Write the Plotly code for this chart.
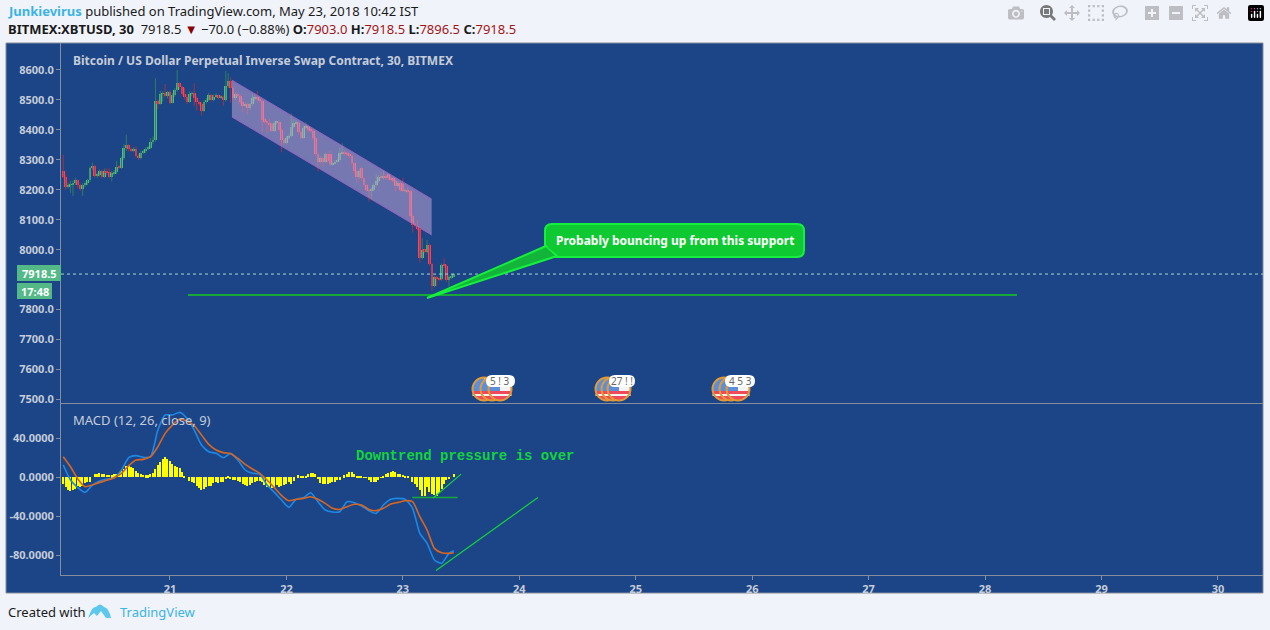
import numpy as np
import plotly.graph_objects as go
from plotly.subplots import make_subplots

W, H = 1270, 630

# 30 minute candles
opens = [8261, 8244, 8210, 8216, 8219, 8224, 8231, 8216, 8202, 8216, 8222, 8231, 8272, 8280, 8246, 8250, 8262, 8244, 8261, 8258,
         8242, 8255, 8258, 8277, 8274, 8305, 8338, 8348, 8335, 8331, 8335, 8314, 8306, 8324, 8328, 8337, 8341, 8358, 8365, 8495,
         8488, 8520, 8523, 8514, 8525, 8491, 8516, 8532, 8555, 8542, 8520, 8511, 8493, 8520, 8522, 8508, 8492, 8488, 8464, 8492,
         8500, 8516, 8500, 8511, 8515, 8508, 8511, 8500, 8546, 8563, 8539, 8508, 8519, 8514, 8492, 8481, 8485, 8472, 8485, 8505,
         8508, 8503, 8496, 8433, 8427, 8422, 8419, 8397, 8424, 8427, 8400, 8366, 8357, 8374, 8380, 8411, 8422, 8424, 8392, 8374,
         8407, 8413, 8400, 8397, 8372, 8318, 8294, 8305, 8294, 8318, 8318, 8285, 8288, 8294, 8298, 8322, 8325, 8322, 8318, 8313,
         8288, 8261, 8241, 8274, 8238, 8216, 8199, 8196, 8200, 8216, 8229, 8244, 8240, 8244, 8252, 8238, 8238, 8229, 8213, 8222,
         8218, 8196, 8199, 8196, 8113, 8083, 8079, 8068, 7973, 7999, 7993, 8016, 7952, 7879, 7908, 7904, 7901, 7949, 7946, 7899,
         7908, 7912]
highs = [8316, 8250, 8224, 8230, 8231, 8240, 8235, 8220, 8222, 8228, 8236, 8278, 8291, 8284, 8256, 8268, 8268, 8270, 8272, 8272,
         8262, 8266, 8296, 8282, 8310, 8352, 8384, 8352, 8340, 8342, 8346, 8320, 8330, 8334, 8342, 8346, 8372, 8378, 8572, 8502,
         8530, 8530, 8553, 8530, 8532, 8522, 8540, 8600, 8560, 8548, 8540, 8518, 8528, 8528, 8555, 8512, 8498, 8492, 8498, 8506,
         8524, 8520, 8518, 8522, 8518, 8516, 8515, 8597, 8589, 8575, 8545, 8526, 8524, 8518, 8496, 8492, 8490, 8490, 8520, 8516,
         8530, 8510, 8500, 8440, 8432, 8436, 8425, 8430, 8432, 8432, 8404, 8372, 8380, 8388, 8455, 8436, 8432, 8428, 8396, 8412,
         8425, 8418, 8406, 8402, 8376, 8322, 8312, 8310, 8324, 8322, 8330, 8294, 8300, 8304, 8340, 8355, 8332, 8328, 8322, 8318,
         8292, 8266, 8270, 8278, 8242, 8220, 8204, 8206, 8220, 8252, 8250, 8258, 8266, 8252, 8256, 8244, 8242, 8234, 8228, 8226,
         8240, 8204, 8211, 8200, 8118, 8090, 8100, 8072, 8038, 8004, 8033, 8020, 7956, 7914, 7912, 7908, 7954, 7971, 7950, 7914,
         7918, 7922]
lows = [8238, 8200, 8204, 8190, 8180, 8216, 8205, 8196, 8180, 8210, 8216, 8226, 8266, 8240, 8240, 8244, 8238, 8240, 8250, 8238,
        8228, 8248, 8252, 8268, 8270, 8300, 8330, 8328, 8326, 8326, 8308, 8300, 8302, 8320, 8322, 8332, 8336, 8352, 8360, 8470,
        8484, 8494, 8508, 8505, 8486, 8488, 8510, 8528, 8535, 8514, 8500, 8486, 8490, 8512, 8480, 8464, 8480, 8448, 8460, 8488,
        8496, 8494, 8496, 8506, 8502, 8504, 8480, 8494, 8540, 8490, 8500, 8500, 8508, 8486, 8460, 8476, 8450, 8466, 8480, 8498,
        8498, 8490, 8394, 8420, 8389, 8414, 8392, 8392, 8418, 8394, 8325, 8350, 8352, 8368, 8376, 8406, 8416, 8386, 8368, 8370,
        8402, 8394, 8390, 8366, 8312, 8261, 8288, 8278, 8290, 8290, 8280, 8280, 8284, 8290, 8294, 8316, 8314, 8312, 8306, 8282,
        8256, 8222, 8236, 8230, 8210, 8194, 8160, 8166, 8194, 8210, 8224, 8234, 8234, 8234, 8232, 8228, 8224, 8192, 8208, 8194,
        8192, 8190, 8186, 8108, 8057, 8074, 8064, 7957, 7968, 7988, 7988, 7946, 7862, 7874, 7877, 7896, 7896, 7940, 7892, 7877,
        7902, 7908]
closes = [8244, 8210, 8216, 8219, 8224, 8231, 8216, 8202, 8216, 8222, 8231, 8272, 8280, 8246, 8250, 8262, 8244, 8261, 8258, 8242,
          8255, 8258, 8277, 8274, 8305, 8338, 8348, 8335, 8331, 8335, 8314, 8306, 8324, 8328, 8337, 8341, 8358, 8365, 8495, 8488,
          8520, 8523, 8514, 8525, 8491, 8516, 8532, 8555, 8542, 8520, 8511, 8493, 8520, 8522, 8508, 8492, 8488, 8464, 8492, 8500,
          8516, 8500, 8511, 8515, 8508, 8511, 8500, 8546, 8563, 8539, 8508, 8519, 8514, 8492, 8481, 8485, 8472, 8485, 8505, 8508,
          8503, 8496, 8433, 8427, 8422, 8419, 8397, 8424, 8427, 8400, 8366, 8357, 8374, 8380, 8411, 8422, 8424, 8392, 8374, 8407,
          8413, 8400, 8397, 8372, 8318, 8294, 8305, 8294, 8318, 8296, 8285, 8288, 8294, 8298, 8322, 8325, 8320, 8318, 8313, 8288,
          8261, 8241, 8263, 8238, 8216, 8199, 8196, 8200, 8216, 8229, 8244, 8240, 8244, 8240, 8238, 8233, 8229, 8213, 8222, 8198,
          8196, 8199, 8192, 8113, 8083, 8079, 8068, 7973, 7999, 7993, 8016, 7952, 7879, 7908, 7901, 7901, 7949, 7946, 7899, 7908,
          7912, 7918.5]

# MACD histogram, one value per candle
hist = [-6.8, -10.3, -13, -14.4, -13.7, -12, -9.6, -10.3, -9.6, -6.2, -5.1, -5.1, 0, 2.7, 2.7, 4.1, 3.1, 3.1, 2.4, 2.4,
        1.7, 2.7, 3.4, 4.4, 6.2, 8.5, 10.9, 11.6, 10.3, 8.9, 6.2, 4.1, 2.7, 2.1, 1.7, 1.7, 2.7, 4.1, 8, 12,
        15.4, 18.8, 20.5, 18.8, 16.4, 13, 10.9, 10.3, 9.6, 5.1, 0.3, 0, -4.1, -5.1, -6.2, -9.6, -10.9, -13, -12, -10.3,
        -9.6, -8.9, -6.2, -5.5, -6.2, -5.5, -5.5, -2.1, 0.3, -2.1, -3.4, -2.7, -4.1, -5.5, -6.8, -8.2, -8.9, -8.2, -6.2, -4.8,
        -4.1, -4.1, -5.5, -8.2, -10.3, -10.3, -10.9, -10.3, -8.2, -10.3, -9.6, -8.2, -7.5, -4.8, -6.8, -4.1, 0, 1.7, 1.4, 1,
        1, 2.7, 4.1, 4.1, 3.4, -2.1, -6.2, -7.5, -7.5, -6.8, -6.2, -5.1, -4.8, -3.4, -2.7, 0, 1.7, 3.4, 4.8, 4.8,
        2.7, 0.7, 0.3, 0.2, -0.3, -1, -2.7, -4.8, -5.5, -4.8, -2.7, -1, 0.7, 2.7, 4.4, 5.5, 6.2, 5.1, 3.4, 2.7,
        2.1, 1, 0.3, 0, -5.1, -7.5, -10.3, -13.7, -19.1, -19.1, -10.3, -15.4, -17.1, -18.5, -19.1, -16.4, -12, -7.5, -3.4, -1.7,
        0, 2.7]

# MACD and signal lines, read every third candle
line_bars = [0, 3, 6, 9, 12, 15, 18, 21, 24, 27, 30, 33, 36, 39, 42, 45, 48, 51, 54, 57, 60, 63, 66, 69, 72, 75, 78, 81, 84, 87, 90, 93,
             96, 99, 102, 105, 108, 111, 114, 117, 120, 123, 126, 129, 132, 135, 138, 141, 144, 147, 150, 153, 156, 159, 161]
macd = [12.3, -3.1, -10.9, -15.7, -8.2, -4.1, -2.1, -0.7, 7.2, 19.8, 21.9, 20.2, 20.9, 48.2, 63.6, 63.6, 66.3, 60.2, 48.2, 32.8, 26, 24.3,
        19.8, 24.3, 17.4, 7.2, 3.8, 3.1, -8.2, -15.7, -23.6, -31.1,
        -22.9, -21.2, -16.1, -25.3, -33.8, -35.9, -35.6, -25.3, -26.3, -29.7, -34.5, -37.3, -28.7, -22.9, -21.9, -22.9, -32.1, -57.8, -68,
        -85.1, -88.5, -78.3, -75.6]
signal = [20.9, 10.6, -2.1, -9.9, -8.2, -5.5, -3.4, -0.7, 3.8, 11.6, 17.4, 18.1, 20.9, 31.1, 44.8, 53.3, 59.5, 57.4, 52.6, 43.1, 33.5, 27.7,
          25, 23.9, 19.1, 13, 8.2, 3.8, -3.1, -10.9, -19.1, -24.3,
          -22.9, -21.9, -20.2, -22.9, -27, -32.1, -33.2, -30.4, -28, -28.7, -33.2, -34.5, -32.1, -27.7, -26, -24.3, -25.3, -40.7, -54.4,
          -73.2, -77.6, -78.3, -77.6]

price_ticks = [8600, 8500, 8400, 8300, 8200, 8100, 8000, 7800, 7700, 7600, 7500]
macd_ticks = [40, 0, -40, -80]
day_ticks = [21, 22, 23, 24, 25, 26, 27, 28, 29, 30]
last_price = 7918.5

# drawings, in day / price units
channel_x = [21.532, 23.247]
channel_top = [8566, 8169]
channel_bottom = [8443, 8049]
support_x = [21.155, 28.274]
support_y = 7849
macd_flat_x = [23.08, 23.47]
macd_flat_y = -21
macd_rise_x = [23.26, 23.5]
macd_rise_y = -21.5, 3
macd_long_x = [23.285, 24.16]
macd_long_y = [-96, -21]

BLUE = "#1c4587"
BORDER = "#858d9b"
TEXT = "#c5ccd8"
UP, DOWN = "#53b987", "#f0485f"
UP_WICK, DOWN_WICK = "#2f7d62", "#a3304a"
GREEN = "#13d43a"
FONT = "Noto Sans, Open Sans, sans-serif"

t = 20 + (4 + np.arange(len(closes))) / 48


def fx(px):
    return px / W


def fy(py):
    return 1 - py / H


fig = make_subplots(rows=2, cols=1, shared_xaxes=True, vertical_spacing=0)

# wicks
for color, pick in ((UP_WICK, True), (DOWN_WICK, False)):
    wx, wy = [], []
    for i in range(len(closes)):
        if (closes[i] >= opens[i]) == pick:
            wx += [t[i], t[i], None]
            wy += [lows[i], highs[i], None]
    fig.add_trace(go.Scatter(x=wx, y=wy, mode="lines", line=dict(color=color, width=1), hoverinfo="skip"), row=1, col=1)

# candle bodies
body = [c - o for o, c in zip(opens, closes)]
body_colors = [UP if b >= 0 else DOWN for b in body]
fig.add_trace(go.Bar(x=t, y=body, base=opens, width=0.0245, marker=dict(color=body_colors, line=dict(width=0))), row=1, col=1)

# MACD pane
fig.add_trace(go.Bar(x=t, y=hist, width=0.0115, marker=dict(color="#ffff00", line=dict(width=0))), row=2, col=1)
line_t = [t[i] for i in line_bars]
fig.add_trace(go.Scatter(x=line_t, y=macd, mode="lines", line=dict(color="#1e88e5", width=1.6, shape="spline", smoothing=0.6)), row=2, col=1)
fig.add_trace(go.Scatter(x=line_t, y=signal, mode="lines", line=dict(color="#d9661f", width=1.6, shape="spline", smoothing=0.6)), row=2, col=1)

shapes = []


def page_rect(x0, y0, x1, y1, fill, line=None, width=0):
    shapes.append(dict(type="rect", xref="paper", yref="paper", x0=fx(x0), x1=fx(x1), y0=fy(y0), y1=fy(y1),
                       fillcolor=fill, line=dict(color=line or fill, width=width), layer="above"))


def rounded(x0, y0, x1, y1, r):
    pts = f"M {fx(x0 + r)} {fy(y0)} L {fx(x1 - r)} {fy(y0)} Q {fx(x1)} {fy(y0)} {fx(x1)} {fy(y0 + r)} "
    pts += f"L {fx(x1)} {fy(y1 - r)} Q {fx(x1)} {fy(y1)} {fx(x1 - r)} {fy(y1)} "
    pts += f"L {fx(x0 + r)} {fy(y1)} Q {fx(x0)} {fy(y1)} {fx(x0)} {fy(y1 - r)} "
    pts += f"L {fx(x0)} {fy(y0 + r)} Q {fx(x0)} {fy(y0)} {fx(x0 + r)} {fy(y0)} Z"
    return pts


def page_path(path, fill, line=None, width=0):
    shapes.append(dict(type="path", xref="paper", yref="paper", path=path, fillcolor=fill,
                       line=dict(color=line or fill, width=width), layer="above"))


def arc(cx, cy, r, a0, a1):
    ang = np.radians(np.linspace(a0, a1, 14))
    return [(cx + r * np.cos(a), cy - r * np.sin(a)) for a in ang]


def poly(points):
    return "M " + " L ".join(f"{fx(x)} {fy(y)}" for x, y in points) + " Z"


def flag(cx, cy, r):
    shapes.append(dict(type="circle", xref="paper", yref="paper", x0=fx(cx - r), x1=fx(cx + r), y0=fy(cy - r), y1=fy(cy + r),
                       fillcolor="#f4f4f4", line=dict(width=0), layer="above"))
    page_path(poly(arc(cx, cy, r, 190, 350)), "#ee4a5c")
    page_path(poly([(cx - r, cy + 5), (cx + r, cy + 5), (cx + r, cy + 7), (cx - r, cy + 7)]), "#f4f4f4")
    page_path(poly(arc(cx, cy, r, 90, 190) + [(cx, cy + 2)]), "#5d8fd8")
    shapes.append(dict(type="circle", xref="paper", yref="paper", x0=fx(cx - r), x1=fx(cx + r), y0=fy(cy - r), y1=fy(cy + r),
                       line=dict(color="#e39a35", width=2), layer="above"))


# frame behind the panes
shapes.append(dict(type="rect", xref="paper", yref="paper", x0=fx(6), x1=fx(1263), y0=fy(43), y1=fy(593),
                   fillcolor=BLUE, line=dict(color=BORDER, width=1), layer="below"))

# last price
shapes.append(dict(type="line", xref="x", yref="y", x0=20.064, x1=30.387, y0=last_price, y1=last_price,
                   line=dict(color="#a5d8cc", width=1, dash="dot"), layer="above"))

# falling channel
shapes.append(dict(type="path", xref="x", yref="y", layer="above", fillcolor="rgba(208,171,221,0.5)", line=dict(width=0),
                   path=f"M {channel_x[0]} {channel_top[0]} L {channel_x[1]} {channel_top[1]} L {channel_x[1]} {channel_bottom[1]} L {channel_x[0]} {channel_bottom[0]} Z"))
for edge in (channel_top, channel_bottom):
    shapes.append(dict(type="line", xref="x", yref="y", layer="above", x0=channel_x[0], x1=channel_x[1], y0=edge[0], y1=edge[1],
                       line=dict(color="#9a5fbe", width=1)))

# support line
shapes.append(dict(type="line", xref="x", yref="y", layer="above", x0=support_x[0], x1=support_x[1], y0=support_y, y1=support_y,
                   line=dict(color="#18a83a", width=2)))

# callout
page_path(rounded(545, 224, 804, 257, 7), "#0fc932", "#16f03c", 2)
page_path(poly([(427, 298), (546, 246), (557, 256)]), "#12b53a", "#16f03c", 2)
page_path(poly([(547, 247), (558, 255), (558, 247)]), "#0fc932")

# MACD drawings
for x_pair, y_pair, color, width in ((macd_flat_x, [macd_flat_y, macd_flat_y], "#18a83a", 1.5),
                                     (macd_rise_x, macd_rise_y, GREEN, 1.2),
                                     (macd_long_x, macd_long_y, GREEN, 1.2)):
    shapes.append(dict(type="line", xref="x2", yref="y2", layer="above", x0=x_pair[0], x1=x_pair[1], y0=y_pair[0], y1=y_pair[1],
                       line=dict(color=color, width=width)))

# event flags
for cx, cy, r in ((484, 389, 11.5), (492, 389, 11.5), (500, 389, 11.5),
                  (607, 389, 11.5), (613, 389, 11.5), (619, 389, 11.5),
                  (724, 389, 11.5), (731, 389, 11.5), (738, 389, 11.5)):
    flag(cx, cy, r)
for x0, x1 in ((486, 515), (609, 635), (725, 755)):
    page_path(rounded(x0, 375, x1, 387, 6), "#ffffff")

# price labels
page_rect(17, 265, 61, 281, UP)
page_rect(17, 283, 52, 299, UP)

# logo
page_path(f"M {fx(88)} {fy(618)} L {fx(91)} {fy(611)} Q {fx(93)} {fy(607)} {fx(96)} {fy(607)} Q {fx(100)} {fy(602)} {fx(104)} {fy(607)} "
          f"Q {fx(109)} {fy(608)} {fx(111)} {fy(618)} L {fx(106)} {fy(618)} L {fx(101)} {fy(611)} L {fx(97)} {fy(616)} L {fx(94)} {fy(613)} Z",
          "#5cc8ec")


def note(x, y, text, size=12, color=TEXT, anchor="left", family=FONT):
    return dict(xref="paper", yref="paper", x=fx(x), y=fy(y), text=text, showarrow=False, xanchor=anchor, yanchor="middle",
                align=anchor, font=dict(size=size, color=color, family=family))


dark_red = "#a31515"
header2 = ("<b>BITMEX:XBTUSD, 30</b>  7918.5 <span style='color:#8b0000'>▼</span> −70.0 (−0.88%) "
           f"<b>O:</b><span style='color:{dark_red}'>7903.0</span> <b>H:</b><span style='color:{dark_red}'>7918.5</span> "
           f"<b>L:</b><span style='color:{dark_red}'>7896.5</span> <b>C:</b><span style='color:{dark_red}'>7918.5</span>")
annotations = [
    note(6, 11, "<b><span style='color:#3bb3e4'>Junkievirus</span></b> published on TradingView.com, May 23, 2018 10:42 IST", 13, "#1a1a1a"),
    note(6, 29, header2, 13, "#1a1a1a"),
    note(71, 60, "<b>Bitcoin / US Dollar Perpetual Inverse Swap Contract, 30, BITMEX</b>", 12),
    note(71, 420, "MACD (12, 26, close, 9)", 13),
    note(674.5, 240, "<b>Probably bouncing up from this support</b>", 12, "#ffffff", "center"),
    note(354, 456, "<b>Downtrend pressure is over</b>", 14, GREEN, family="Liberation Mono, monospace"),
    note(39, 273, "<b>7918.5</b>", 11, "#ffffff", "center"),
    note(34.5, 291, "<b>17:48</b>", 11, "#ffffff", "center"),
    note(6, 612, "Created with", 13, "#1a1a1a"),
    note(118, 612, "TradingView", 13, "#3bb3e4"),
    note(500, 381, "5 ! 3", 10, "#666666", "center"),
    note(622, 381, "27 ! !", 10, "#666666", "center"),
    note(740, 381, "4 5 3", 10, "#666666", "center"),
]

tick_font = dict(size=11, color=TEXT, family=FONT, weight="bold")
fig.update_xaxes(range=[20.064, 30.387], domain=[fx(61), fx(1263)], showgrid=False, zeroline=False, showline=True,
                 linecolor=BORDER, linewidth=1)
fig.update_xaxes(row=2, col=1, tickmode="array", tickvals=day_ticks, ticktext=[str(d) for d in day_ticks], ticks="outside",
                 ticklen=4, tickcolor=BORDER, tickfont=tick_font)
fig.update_yaxes(showgrid=False, zeroline=False, showline=True, linecolor=BORDER, linewidth=1, ticks="outside", ticklen=4,
                 tickcolor=BORDER, tickfont=tick_font, tickmode="array")
fig.update_yaxes(row=1, col=1, range=[7488, 8690], domain=[fy(403), fy(43)], tickvals=price_ticks,
                 ticktext=[f"{p:.1f}" for p in price_ticks])
fig.update_yaxes(row=2, col=1, range=[-100.5, 74.9], domain=[fy(575), fy(404)], tickvals=macd_ticks,
                 ticktext=[f"{m:.4f}" for m in macd_ticks])

fig.update_layout(width=W, height=H, template="none", showlegend=False, barmode="overlay", bargap=0,
                  margin=dict(l=0, r=0, t=0, b=0), autosize=False, paper_bgcolor="#f0f3fa", plot_bgcolor=BLUE,
                  shapes=shapes, annotations=annotations, hovermode=False, font=dict(family=FONT))

fig.write_html("out.html", post_script="document.body.style.margin='0';document.body.style.overflow='hidden';")
